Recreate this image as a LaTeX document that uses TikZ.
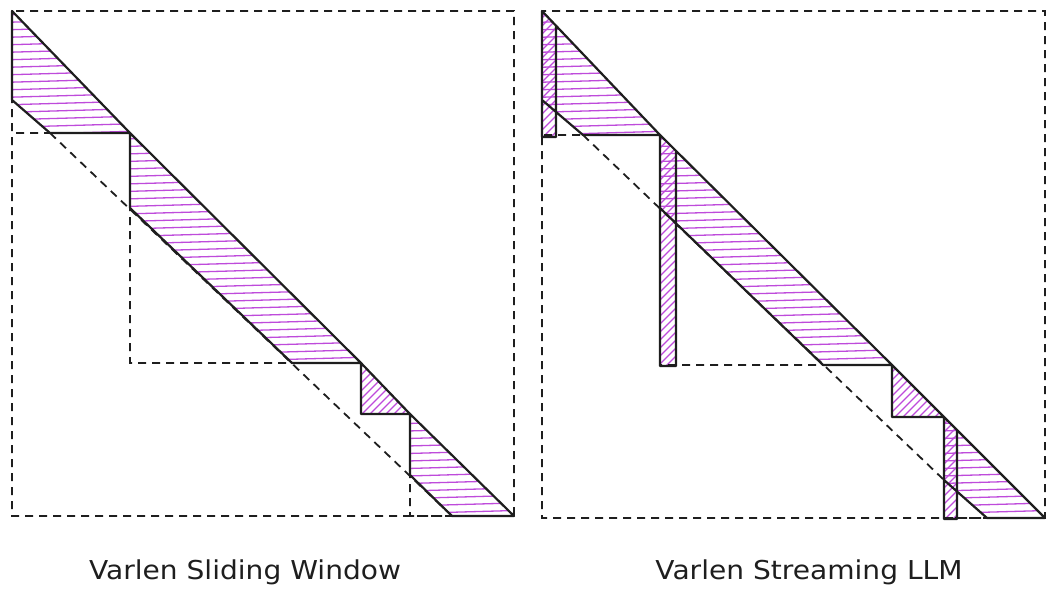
\documentclass[tikz,border=0pt]{standalone}
\usepackage{fontspec}
\newfontfamily\handfont[FakeStretch=1.08]{DejaVu Sans}
\definecolor{ink}{RGB}{30,30,30}
\definecolor{violet}{RGB}{190,75,219}

\tikzset{
  edge/.style={draw=ink,line width=2.2pt,line join=round},
  grid/.style={draw=ink,line width=1.8pt,dash pattern=on 8pt off 6pt},
  hatch/.style={draw=violet,line width=1.3pt},
  caption/.style={font=\handfont\fontsize{26}{30}\selectfont,text=ink}
}

% horizontal and slanted fillings, clipped to a region
\newcommand{\bandfill}[1]{%
  \begin{scope}
    \clip #1;
    \foreach \y in {0,7.5,...,540} \draw[hatch] (0,\y) -- (1064,\y-30);
  \end{scope}}
\newcommand{\slashfill}[1]{%
  \begin{scope}
    \clip #1;
    \foreach \x in {-540,-532,...,1064} \draw[hatch] (\x,540) -- ++(540,-540);
  \end{scope}}

\begin{document}
\begin{tikzpicture}[x=1pt,y=-1pt]
\useasboundingbox (0,0) rectangle (1064,594);

% sliding window
\coordinate (l0) at (12,11);
\coordinate (l1) at (130,133);
\coordinate (l2) at (361,363);
\coordinate (l3) at (410,414);
\coordinate (l4) at (514,516);
\coordinate (l0a) at (12,100);
\coordinate (l0b) at (50,133);
\coordinate (l1a) at (130,208);
\coordinate (l1b) at (292,363);
\coordinate (l3a) at (410,475);
\coordinate (l3b) at (452,516);

\bandfill{(l0) -- (l1) -- (l0b) -- (l0a) -- cycle}
\bandfill{(l1) -- (l2) -- (l1b) -- (l1a) -- cycle}
\slashfill{(l2) -- (l3) -- (l2 |- l3) -- cycle}
\bandfill{(l3) -- (l4) -- (l3b) -- (l3a) -- cycle}

\path [grid]
    (l0) rectangle (l4)
    (l0) |- (l1)
    (l1) |- (l2)
    (l3) |- (l4)
    (l0b) -- (l3b)
;
\path [edge]
    (l0) -- (l1) -- (l0b) -- (l0a) -- cycle
    (l1) -- (l2) -- (l1b) -- (l1a) -- cycle
    (l2) -- (l3) -- (l2 |- l3) -- cycle
    (l3) -- (l4) -- (l3b) -- (l3a) -- cycle
;

% streaming llm
\coordinate (r0) at (542,11);
\coordinate (r1) at (660,135);
\coordinate (r2) at (892,365);
\coordinate (r3) at (944,417);
\coordinate (r4) at (1045,518);
\coordinate (r0a) at (542,100);
\coordinate (r0b) at (583,135);
\coordinate (r1a) at (660,208);
\coordinate (r1b) at (823,365);
\coordinate (r3a) at (944,480);
\coordinate (r3b) at (987,518);
\coordinate (r0d) at (556,25);
\coordinate (r0c) at (556,137);
\coordinate (r1d) at (676,151);
\coordinate (r1c) at (676,366);
\coordinate (r3d) at (957,430);
\coordinate (r3c) at (957,519);

\bandfill{(r0) -- (r1) -- (r0b) -- (r0a) -- cycle}
\bandfill{(r1) -- (r2) -- (r1b) -- (r1a) -- cycle}
\slashfill{(r2) -- (r3) -- (r2 |- r3) -- cycle}
\bandfill{(r3) -- (r4) -- (r3b) -- (r3a) -- cycle}
\slashfill{(r0) -- (r0d) -- (r0c) -- (r0 |- r0c) -- cycle}
\slashfill{(r1) -- (r1d) -- (r1c) -- (r1 |- r1c) -- cycle}
\slashfill{(r3) -- (r3d) -- (r3c) -- (r3 |- r3c) -- cycle}

\path [grid]
    (r0) rectangle (r4)
    (r0) |- (r1)
    (r1) |- (r2)
    (r3) |- (r4)
    (r0b) -- (r3a)
;
\path [edge]
    (r0) -- (r1) -- (r0b) -- (r0a) -- cycle
    (r1) -- (r2) -- (r1b) -- (r1a) -- cycle
    (r2) -- (r3) -- (r2 |- r3) -- cycle
    (r3) -- (r4) -- (r3b) -- (r3a) -- cycle
    (r0d) -- (r0c) -- (r0 |- r0c) -- (r0)
    (r1d) -- (r1c) -- (r1 |- r1c) -- (r1)
    (r3d) -- (r3c) -- (r3 |- r3c) -- (r3)
;

\node[caption] (lname) at (245,572) {Varlen Sliding Window};
\node[caption] (rname) at (809,572) {Varlen Streaming LLM};

\end{tikzpicture}
\end{document}
